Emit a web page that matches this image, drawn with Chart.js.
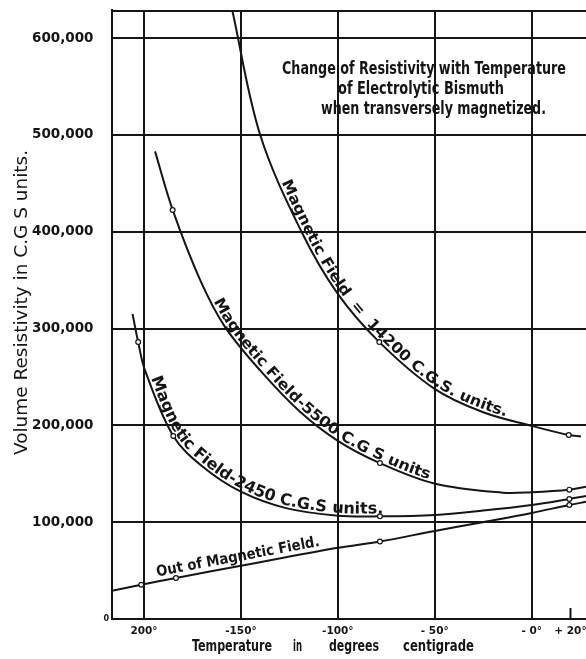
<!DOCTYPE html>
<html>
<head>
<meta charset="utf-8">
<title>Change of Resistivity with Temperature of Electrolytic Bismuth</title>
<script src="https://cdn.jsdelivr.net/npm/chart.js@4.4.1/dist/chart.umd.min.js"></script>
<style>
  html, body { margin: 0; padding: 0; background: #fff; }
  #wrap { width: 586px; height: 659px; }
</style>
</head>
<body>
<div id="wrap"><canvas id="chart" width="586" height="659"></canvas></div>
<script>
// Temperature (°C) and volume resistivity (C.G.S. units) along each curve.
const tempField14200 = [-154.5, -140.2, -119, -100.1, -78.6, -50.3, -25, 0, 19.1, 25.4];
const resField14200  = [629000, 501000, 401000, 336000, 286000, 238000, 213500, 199500, 190000, 188500];
const measuredField14200 = [-78.6, 19.1];

const tempField5500 = [-194.3, -185.2, -171, -158.3, -140.2, -119.5, -100, -78.3, -50.3, -15, 0, 19.4, 28];
const resField5500  = [483000, 422500, 350000, 302000, 257000, 214000, 184000, 161000, 140000, 130500, 131000, 133600, 136700];
const measuredField5500 = [-185.2, -78.3, 19.4];

const tempField2450 = [-205.9, -203, -199.5, -184.9, -169.5, -150, -126.7, -100, -78.3, -50, -25, 0, 19.4, 28];
const resField2450  = [315000, 286000, 257000, 189000, 157000, 131500, 114500, 106700, 106000, 107400, 112000, 117800, 124000, 127000];
const measuredField2450 = [-203, -184.9, -78.3, 19.4];

const tempNoField = [-216.5, -201.4, -183.5, -150, -100, -78.3, -50, -25.3, 0, 19.4, 28];
const resNoField  = [29200, 35400, 42400, 55000, 73500, 80000, 91000, 100000, 109500, 117800, 121000];
const measuredNoField = [-201.4, -183.5, -78.3, 19.4];

// Axis ticks
const xTickValues = [-200, -150, -100, -50, 0, 20];
const xTickLabels = ['200°', '-150°', '-100°', '- 50°', '- 0°', '+ 20°'];
const xGridValues = [-200, -150, -100, -50, 0];
const yTickValues = [100000, 200000, 300000, 400000, 500000, 600000];
const yTickLabels = ['100,000', '200,000', '300,000', '400,000', '500,000', '600,000'];

// Lettering written along the curves
const curveLabelTexts = [
  'Magnetic Field  =  14200 C.G.S. units.',
  'Magnetic Field-5500 C.G S units',
  'Magnetic Field-2450 C.G.S units.',
  'Out of Magnetic Field.'
];
const titleLines = ['Change of Resistivity with Temperature', 'of Electrolytic Bismuth', 'when transversely magnetized.'];
const yAxisTitle = 'Volume Resistivity in C.G S units.';
const xAxisWords = ['Temperature', 'in', 'degrees', 'centigrade'];

const X_MIN = -216.5, X_MAX = 28, Y_MIN = 0, Y_MAX = 629000;
const INK = '#151515';
const LETTER = "'DejaVu Sans Condensed', 'Liberation Sans Narrow', 'DejaVu Sans', sans-serif";

// Where each curve's lettering runs (temperature span along the curve) and how it sits.
const curveLabelLayout = [
  { dataset: 0, from: -130.5, to: -13.7, size: 15, gap: 3 },
  { dataset: 1, from: -165.5, to: -53.5, size: 15, gap: 3 },
  { dataset: 2, from: -197.8, to: -76.5, size: 16, gap: 3 },
  { dataset: 3, from: -192.7, to: -108.7, size: 15, gap: 5 }
];

function toPoints(temps, values) {
  return temps.map((t, i) => ({ x: t, y: values[i] }));
}

function curveDataset(temps, values, measured) {
  return {
    data: toPoints(temps, values),
    borderColor: INK,
    borderWidth: 2,
    tension: 0.35,
    fill: false,
    pointRadius: (c) => (c.raw && measured.includes(c.raw.x)) ? 2.4 : 0,
    pointHoverRadius: 0,
    pointBackgroundColor: '#fff',
    pointBorderColor: INK,
    pointBorderWidth: 1.2
  };
}

// Sample the drawn bezier path of a line element into a polyline with arc lengths.
function samplePath(chart, meta) {
  const line = meta.dataset;
  line.updateControlPoints(chart.chartArea, 'x');
  const pts = meta.data;
  const out = [];
  for (let i = 0; i < pts.length - 1; i++) {
    const a = pts[i], b = pts[i + 1];
    const c1x = a.cp2x ?? a.x, c1y = a.cp2y ?? a.y, c2x = b.cp1x ?? b.x, c2y = b.cp1y ?? b.y;
    for (let k = 0; k < 30; k++) {
      const t = k / 30, u = 1 - t;
      out.push({
        x: u*u*u*a.x + 3*u*u*t*c1x + 3*u*t*t*c2x + t*t*t*b.x,
        y: u*u*u*a.y + 3*u*u*t*c1y + 3*u*t*t*c2y + t*t*t*b.y
      });
    }
  }
  const last = pts[pts.length - 1];
  out.push({ x: last.x, y: last.y });
  let s = 0;
  out[0].s = 0;
  for (let i = 1; i < out.length; i++) {
    s += Math.hypot(out[i].x - out[i-1].x, out[i].y - out[i-1].y);
    out[i].s = s;
  }
  return out;
}

function pointAt(path, s) {
  if (s <= 0) return path[0];
  if (s >= path[path.length - 1].s) return path[path.length - 1];
  let lo = 0, hi = path.length - 1;
  while (hi - lo > 1) {
    const mid = (lo + hi) >> 1;
    if (path[mid].s < s) lo = mid; else hi = mid;
  }
  const a = path[lo], b = path[hi];
  const f = (s - a.s) / ((b.s - a.s) || 1);
  return { x: a.x + (b.x - a.x) * f, y: a.y + (b.y - a.y) * f };
}

function lengthAtX(path, px) {
  for (let i = 1; i < path.length; i++) {
    if (path[i].x >= px) {
      const a = path[i-1], b = path[i];
      const f = (px - a.x) / ((b.x - a.x) || 1);
      return a.s + (b.s - a.s) * f;
    }
  }
  return path[path.length - 1].s;
}

function textAlongPath(ctx, path, text, s0, s1, gap, font) {
  ctx.save();
  ctx.font = font;
  ctx.fillStyle = INK;
  ctx.textAlign = 'center';
  ctx.textBaseline = 'alphabetic';
  const chars = [...text];
  const widths = chars.map(ch => ctx.measureText(ch).width);
  const total = widths.reduce((p, w) => p + w, 0);
  const k = (s1 - s0) / total;
  let acc = 0;
  chars.forEach((ch, i) => {
    const s = s0 + (acc + widths[i] / 2) * k;
    acc += widths[i];
    if (ch === ' ') return;
    const p = pointAt(path, s);
    const p1 = pointAt(path, s - 5), p2 = pointAt(path, s + 5);
    const ang = Math.atan2(p2.y - p1.y, p2.x - p1.x);
    const nx = Math.sin(ang), ny = -Math.cos(ang);
    ctx.save();
    ctx.translate(p.x + nx * gap, p.y + ny * gap);
    ctx.rotate(ang);
    ctx.scale(k, 1);
    ctx.fillText(ch, 0, 0);
    ctx.restore();
  });
  ctx.restore();
}

function fittedText(ctx, text, x, y, width, font, align) {
  ctx.save();
  ctx.font = font;
  ctx.fillStyle = INK;
  ctx.textBaseline = 'alphabetic';
  ctx.textAlign = align || 'center';
  const w = ctx.measureText(text).width;
  ctx.translate(x, y);
  ctx.scale(width / w, 1);
  ctx.fillText(text, 0, 0);
  ctx.restore();
}

const lettering = {
  id: 'lettering',
  beforeDraw(chart) {
    const ctx = chart.ctx;
    ctx.save();
    ctx.fillStyle = '#fff';
    ctx.fillRect(0, 0, chart.width, chart.height);
    ctx.restore();
  },
  afterDatasetsDraw(chart) {
    const ctx = chart.ctx;
    const xs = chart.scales.x;
    curveLabelLayout.forEach((lab, i) => {
      const meta = chart.getDatasetMeta(lab.dataset);
      const path = samplePath(chart, meta);
      const s0 = lengthAtX(path, xs.getPixelForValue(lab.from));
      const s1 = lengthAtX(path, xs.getPixelForValue(lab.to));
      textAlongPath(ctx, path, curveLabelTexts[i], s0, s1, lab.gap, 'bold ' + lab.size + 'px ' + LETTER);
    });
  },
  afterDraw(chart) {
    const ctx = chart.ctx;
    const a = chart.chartArea;
    const xs = chart.scales.x, ys = chart.scales.y;

    // Top frame line of the plot
    const yTop = ys.getPixelForValue(Y_MAX);
    ctx.save();
    ctx.strokeStyle = INK;
    ctx.lineWidth = 2;
    ctx.beginPath();
    ctx.moveTo(a.left - 1, yTop + 1);
    ctx.lineTo(a.right, yTop + 1);
    ctx.stroke();
    ctx.restore();

    // Heading inside the plot
    fittedText(ctx, titleLines[0], a.left + 312, a.top + 64, 284, 'bold 17px ' + LETTER);
    fittedText(ctx, titleLines[1], a.left + 309, a.top + 84, 166, 'bold 17px ' + LETTER);
    fittedText(ctx, titleLines[2], a.left + 321.5, a.top + 103.5, 225, 'bold 17px ' + LETTER);

    // Vertical axis title
    ctx.save();
    ctx.translate(27, (a.top + a.bottom) / 2 - 12);
    ctx.rotate(-Math.PI / 2);
    fittedText(ctx, yAxisTitle, 0, 0, 305, '17px "DejaVu Sans", sans-serif');
    ctx.restore();

    // Horizontal axis title, word by word
    const wordX = [192, 293, 329, 403];
    const wordW = [80, 9, 50, 71];
    xAxisWords.forEach((w, i) => fittedText(ctx, w, wordX[i], a.bottom + 32, wordW[i], 'bold 16px ' + LETTER, 'left'));

    // Zero of the resistivity scale
    ctx.save();
    ctx.font = 'bold 8px "DejaVu Sans", sans-serif';
    ctx.fillStyle = INK;
    ctx.textAlign = 'right';
    ctx.textBaseline = 'middle';
    ctx.fillText('0', a.left - 3, ys.getPixelForValue(0));
    ctx.restore();

    // Short tick at +20°
    const x20 = xs.getPixelForValue(20);
    ctx.save();
    ctx.strokeStyle = INK;
    ctx.lineWidth = 2;
    ctx.beginPath();
    ctx.moveTo(x20, a.bottom - 11);
    ctx.lineTo(x20, a.bottom);
    ctx.stroke();
    ctx.restore();
  }
};

new Chart(document.getElementById('chart'), {
  type: 'line',
  data: {
    datasets: [
      curveDataset(tempField14200, resField14200, measuredField14200),
      curveDataset(tempField5500, resField5500, measuredField5500),
      curveDataset(tempField2450, resField2450, measuredField2450),
      curveDataset(tempNoField, resNoField, measuredNoField)
    ]
  },
  options: {
    responsive: false,
    devicePixelRatio: 1,
    animation: false,
    events: [],
    layout: { padding: { left: 0, right: 0, top: 10, bottom: 0 } },
    plugins: { legend: { display: false }, tooltip: { enabled: false }, title: { display: false } },
    scales: {
      x: {
        type: 'linear',
        min: X_MIN,
        max: X_MAX,
        afterBuildTicks: (scale) => {
          scale.ticks = [X_MIN, ...xTickValues, X_MAX].map(v => ({ value: v }));
        },
        afterFit: (scale) => {
          scale.height = 40;
          scale.paddingLeft = 0;
          scale.paddingRight = 0;
        },
        ticks: {
          autoSkip: false,
          maxRotation: 0,
          minRotation: 0,
          padding: 6,
          color: INK,
          font: { family: '"DejaVu Sans", sans-serif', size: 10.5, weight: 'bold' },
          callback: (v) => {
            const i = xTickValues.indexOf(v);
            return i >= 0 ? xTickLabels[i] : null;
          }
        },
        grid: {
          drawTicks: false,
          lineWidth: 2,
          color: (c) => (c.tick && xGridValues.includes(c.tick.value)) ? INK : 'rgba(0,0,0,0)'
        },
        border: { display: true, color: INK, width: 2 }
      },
      y: {
        type: 'linear',
        min: Y_MIN,
        max: Y_MAX,
        afterBuildTicks: (scale) => {
          scale.ticks = [Y_MIN, ...yTickValues, Y_MAX].map(v => ({ value: v }));
        },
        afterFit: (scale) => {
          scale.width = 112;
          scale.paddingTop = 0;
          scale.paddingBottom = 0;
        },
        ticks: {
          autoSkip: false,
          padding: 18.5,
          color: INK,
          font: { family: '"DejaVu Sans", sans-serif', size: 13.5, weight: 'bold' },
          callback: (v) => {
            const i = yTickValues.indexOf(v);
            return i >= 0 ? yTickLabels[i] : null;
          }
        },
        grid: {
          drawTicks: false,
          lineWidth: 2,
          color: (c) => (c.tick && c.tick.value !== Y_MIN) ? INK : 'rgba(0,0,0,0)'
        },
        border: { display: true, color: INK, width: 2 }
      }
    }
  },
  plugins: [lettering]
});
</script>
</body>
</html>
